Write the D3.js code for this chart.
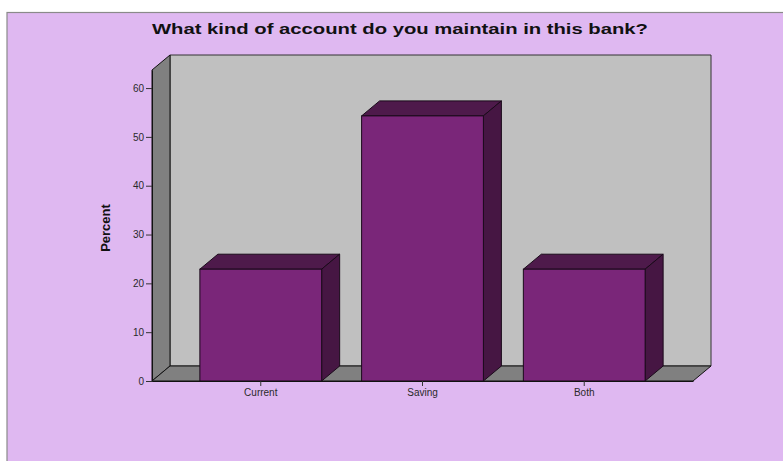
<!DOCTYPE html>
<html>
<head>
<meta charset="utf-8">
<script src="https://cdn.jsdelivr.net/npm/d3@7/dist/d3.min.js"></script>
<style>
  html, body { margin: 0; padding: 0; background: #ffffff; }
  svg { display: block; }
</style>
</head>
<body>
<svg id="chart" width="783" height="461"></svg>
<script>
// Account type shares (percent of respondents)
const categories = ["Current", "Saving", "Both"];
const percents = [22.9, 54.3, 22.9];
const yTicks = [0, 10, 20, 30, 40, 50, 60];
const chartTitle = "What kind of account do you maintain in this bank?";
const yLabel = "Percent";

const W = 783, H = 461;
const DX = 18, DY = 15;            // depth offset of the 3-D box
const colors = {
  panel: "#dfb8f1",
  frame: "#8a8a8a",
  backWall: "#c0c0c0",
  sideWall: "#808080",
  barFront: "#7a2679",
  barTop: "#4e1a4b",
  barSide: "#461643",
  edge: "#1a0a1a",
  text: "#2a2a2a"
};

const svg = d3.select("#chart");

// panel background with its frame
svg.append("rect")
  .attr("x", 7).attr("y", 12.5)
  .attr("width", W).attr("height", H)
  .attr("fill", colors.panel)
  .attr("stroke", colors.frame).attr("stroke-width", 1.2);

const y = d3.scaleLinear().domain([0, 63.7]).range([381, 70]);
const x = d3.scaleBand().domain(categories).range([152, 693])
  .paddingInner(0.247).paddingOuter(0.296);

const x0 = x.range()[0], x1 = x.range()[1];
const yb = y(0), yt = y(y.domain()[1]);

const poly = pts => pts.map(p => p.join(",")).join(" ");

// back wall
svg.append("polygon")
  .attr("points", poly([[x0 + DX, yt - DY], [x1 + DX, yt - DY], [x1 + DX, yb - DY], [x0 + DX, yb - DY]]))
  .attr("fill", colors.backWall).attr("stroke", "#333").attr("stroke-width", 1);

// left wall
svg.append("polygon")
  .attr("points", poly([[x0, yb], [x0 + DX, yb - DY], [x0 + DX, yt - DY], [x0, yt]]))
  .attr("fill", colors.sideWall).attr("stroke", "#111").attr("stroke-width", 1);

// floor
svg.append("polygon")
  .attr("points", poly([[x0, yb], [x1, yb], [x1 + DX, yb - DY], [x0 + DX, yb - DY]]))
  .attr("fill", colors.sideWall).attr("stroke", "#111").attr("stroke-width", 1);

// bars: front, top and right side faces
const bars = svg.append("g").selectAll("g").data(categories).join("g");
bars.each(function (c, i) {
  const g = d3.select(this);
  const l = x(c), r = x(c) + x.bandwidth();
  const top = y(percents[i]);
  g.append("polygon")
    .attr("points", poly([[l, top], [r, top], [r + DX, top - DY], [l + DX, top - DY]]))
    .attr("fill", colors.barTop).attr("stroke", colors.edge).attr("stroke-width", 1);
  g.append("polygon")
    .attr("points", poly([[r, top], [r + DX, top - DY], [r + DX, yb - DY], [r, yb]]))
    .attr("fill", colors.barSide).attr("stroke", colors.edge).attr("stroke-width", 1);
  g.append("rect")
    .attr("x", l).attr("y", top)
    .attr("width", x.bandwidth()).attr("height", yb - top)
    .attr("fill", colors.barFront).attr("stroke", colors.edge).attr("stroke-width", 1);
});

// y axis
const yAxis = svg.append("g")
  .attr("transform", `translate(${x0},0)`)
  .call(d3.axisLeft(y).tickValues(yTicks).tickSize(6).tickPadding(2).tickSizeOuter(0));
yAxis.select(".domain").attr("stroke", "#111");
yAxis.selectAll(".tick line").attr("stroke", "#333");
yAxis.selectAll(".tick text")
  .attr("font-family", "Liberation Sans, Arial, sans-serif")
  .attr("font-size", 10).attr("fill", colors.text);

// x axis
const xAxis = svg.append("g")
  .attr("transform", `translate(0,${yb})`)
  .call(d3.axisBottom(x).tickSize(5).tickPadding(3).tickSizeOuter(0));
xAxis.select(".domain").attr("stroke", "#111");
xAxis.selectAll(".tick line").attr("stroke", "#333");
xAxis.selectAll(".tick text")
  .attr("font-family", "Liberation Sans, Arial, sans-serif")
  .attr("font-size", 10).attr("fill", colors.text);

// title
svg.append("text")
  .attr("x", 400).attr("y", 34)
  .attr("text-anchor", "middle")
  .attr("font-family", "Liberation Sans, Arial, sans-serif")
  .attr("font-weight", "bold").attr("font-size", 15)
  .attr("textLength", 496).attr("lengthAdjust", "spacingAndGlyphs")
  .attr("fill", "#111")
  .text(chartTitle);

// y axis label
svg.append("text")
  .attr("transform", "translate(110,228) rotate(-90)")
  .attr("text-anchor", "middle")
  .attr("font-family", "Liberation Sans Narrow, Liberation Sans, Arial, sans-serif")
  .attr("font-weight", "bold").attr("font-size", 13)
  .attr("fill", "#111")
  .text(yLabel);
</script>
</body>
</html>
